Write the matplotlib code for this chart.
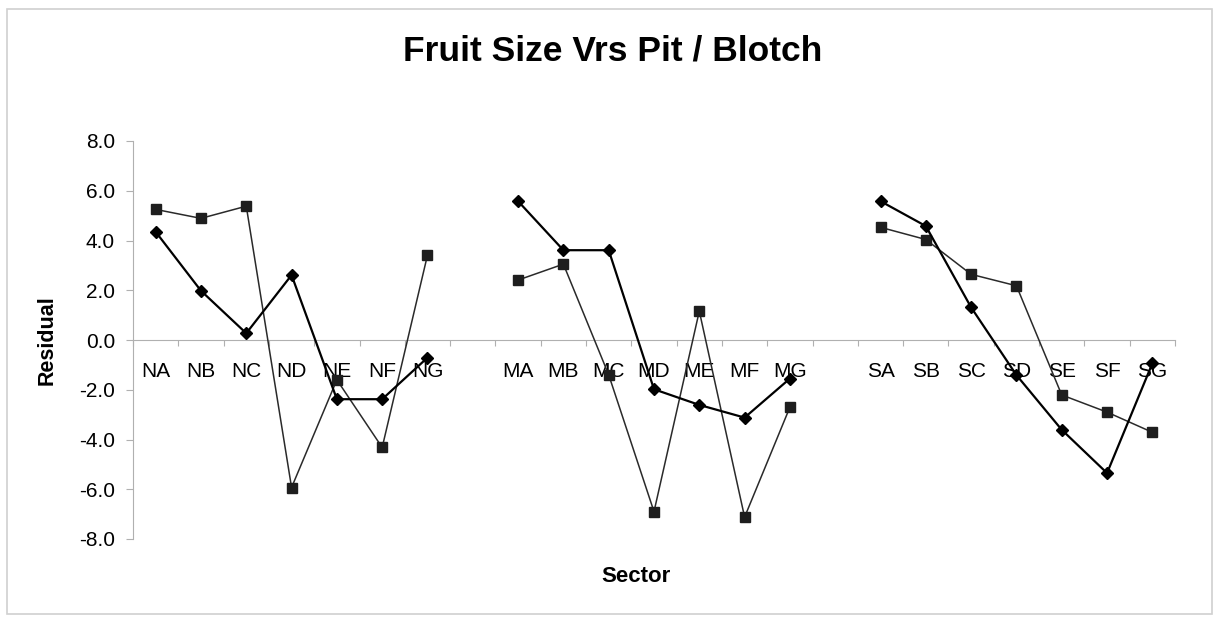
import numpy as np
import matplotlib.pyplot as plt

plt.rcParams['font.family'] = ['Liberation Sans', 'DejaVu Sans']

# categories: three sectors of seven, with a gap between sectors
north = ['NA', 'NB', 'NC', 'ND', 'NE', 'NF', 'NG']
middle = ['MA', 'MB', 'MC', 'MD', 'ME', 'MF', 'MG']
south = ['SA', 'SB', 'SC', 'SD', 'SE', 'SF', 'SG']
labels = north + [''] + middle + [''] + south

# diamond series
diamond_n = [4.35, 1.98, 0.27, 2.61, -2.38, -2.38, -0.71]
diamond_m = [5.58, 3.61, 3.61, -1.98, -2.61, -3.12, -1.55]
diamond_s = [5.58, 4.58, 1.31, -1.41, -3.61, -5.35, -0.94]

# square series
square_n = [5.25, 4.89, 5.38, -5.93, -1.60, -4.32, 3.41]
square_m = [2.41, 3.05, -1.40, -6.90, 1.16, -7.12, -2.70]
square_s = [4.53, 4.04, 2.64, 2.18, -2.21, -2.90, -3.71]

diamond = diamond_n + [np.nan] + diamond_m + [np.nan] + diamond_s
square = square_n + [np.nan] + square_m + [np.nan] + square_s

x = np.arange(len(labels))

fig = plt.figure(figsize=(12.19, 6.22), dpi=100)
ax = fig.add_axes([133/1219, 1-539/622, 1042/1219, 398/622])

ax.plot(x, square, color='#2a2a2a', lw=1.1, marker='s', ms=7,
        mfc='#1e1e1e', mec='#1e1e1e', zorder=3)
ax.plot(x, diamond, color='black', lw=1.6, marker='D', ms=6.5,
        mfc='black', mec='black', zorder=4)

ax.set_xlim(-0.5, len(labels) - 0.5)
ax.set_ylim(-8, 8)
yt = np.arange(-8, 9, 2)
ax.set_yticks(yt)
ax.set_yticklabels([f'{v:.1f}' for v in yt])

# category boundary ticks, labels at centres
ax.set_xticks(np.arange(-0.5, len(labels), 1))
ax.set_xticklabels([])
ax.set_xticks(x, minor=True)
ax.set_xticklabels(labels, minor=True)
ax.tick_params(axis='x', which='major', length=4, color='#b0b0b0', direction='out')
ax.tick_params(axis='x', which='minor', length=0, pad=16, labelsize=15)
ax.tick_params(axis='y', length=5, color='#b0b0b0', labelsize=15, pad=8)

for s in ['top', 'right']:
    ax.spines[s].set_visible(False)
ax.spines['bottom'].set_position(('data', 0))
ax.spines['bottom'].set_color('#b0b0b0')
ax.spines['left'].set_color('#b0b0b0')

fig.text(613/1219, 1-51/622, 'Fruit Size Vrs Pit / Blotch', ha='center', va='center',
         fontsize=25.5, fontweight='bold')
fig.text(47/1219, 1-340/622, 'Residual', ha='center', va='center',
         rotation=90, fontsize=15.5, fontweight='bold')
fig.text(636/1219, 1-577/622, 'Sector', ha='center', va='center',
         fontsize=16, fontweight='bold')

# outer chart border
border = plt.Rectangle((7/1219, 8/622), 1205/1219, 605/622, transform=fig.transFigure,
                       fill=False, edgecolor='#d0d0d0', lw=1.2)
fig.add_artist(border)

fig.savefig('out.png', dpi=100, facecolor='white')
